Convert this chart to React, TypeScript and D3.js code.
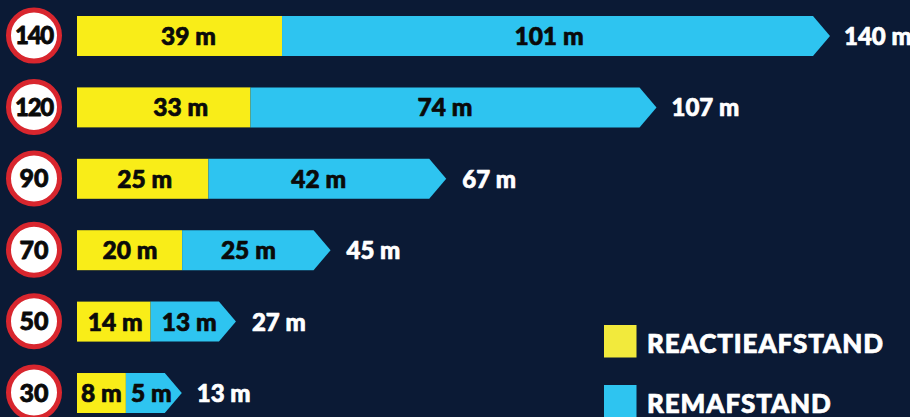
import React from "react";
import * as d3 from "d3";

const speeds = ["140", "120", "90", "70", "50", "30"];
const reaction = [39, 33, 25, 20, 14, 8];
const braking = [101, 74, 42, 25, 13, 5];
const totals = [140, 107, 67, 45, 27, 13];
// The bottom bar is drawn longer in the picture than its printed labels say.
const reactionDrawn = [39, 33, 25, 20, 14, 9.3];
const brakingDrawn = [101, 74, 42, 25, 13, 7.4];
const legendLabels = ["REACTIEAFSTAND", "REMAFSTAND"];

const W = 910, H = 417;
const font = "Lato, sans-serif";
const x = d3.scaleLinear().domain([0, 140]).range([77, 813]);
const y = d3.scaleBand<string>().domain(speeds).range([16, 413]).paddingInner(0.44).paddingOuter(0);
const TIP = 17;
const reactionNudge = [9, 17, 2, 0.5, 1.5, 0];
const brakingNudge = [1.5, 0, 0, 0.5, 4.5, 6];
const totalGap = [14, 15, 16, 16, 16, 15];

const heavy = (fill: string, w = 0.7) => ({
  fontFamily: font,
  fontWeight: 900,
  fill,
  stroke: fill,
  strokeWidth: w,
  strokeLinejoin: "round" as const,
});

export default function App() {
  const bh = y.bandwidth();
  return (
    <svg width={W} height={H} viewBox={`0 0 ${W} ${H}`} style={{ position: "absolute", left: 0, top: 0, background: "#0b1a35" }}>
      {speeds.map((s, i) => {
        const t = y(s)!;
        const cy = t + bh / 2;
        const xr = x(reactionDrawn[i]);
        const xe = x(reactionDrawn[i] + brakingDrawn[i]);
        const path = d3.path();
        path.moveTo(xr, t);
        path.lineTo(xe, t);
        path.lineTo(xe + TIP, cy);
        path.lineTo(xe, t + bh);
        path.lineTo(xr, t + bh);
        path.closePath();
        return (
          <g key={s}>
            <circle cx={34} cy={cy - 0.4} r={25.5} fill="#fff" stroke="#d8262e" strokeWidth={5} />
            <text x={34} y={cy + 8.5} textAnchor="middle" fontSize={s.length > 2 ? 24 : 25} letterSpacing={s.length > 2 ? -1.2 : 0} {...heavy("#0a0a0a", 0.8)}>{s}</text>
            <rect x={x(0)} y={t} width={xr - x(0)} height={bh} fill="#f9ed18" />
            <path d={path.toString()} fill="#2ec4f0" />
            <text x={(x(0) + xr) / 2 + reactionNudge[i]} y={cy + 9} textAnchor="middle" fontSize={24.5} {...heavy("#0a0a0a")}>{reaction[i]} m</text>
            <text x={(xr + xe) / 2 + brakingNudge[i]} y={cy + 9} textAnchor="middle" fontSize={24.5} {...heavy("#0a0a0a")}>{braking[i]} m</text>
            <text x={xe + TIP + totalGap[i]} y={cy + 9} fontSize={24} {...heavy("#fff")}>{totals[i]} m</text>
          </g>
        );
      })}
      {legendLabels.map((l, i) => (
        <g key={l}>
          <rect x={604} y={325 + i * 60} width={32.5} height={32.5} fill={i === 0 ? "#f2ea3c" : "#2ec4f0"} />
          <text x={647} y={352.7 + i * 60} fontSize={26} letterSpacing={0.9} {...heavy("#fff", 0.7)}>{l}</text>
        </g>
      ))}
    </svg>
  );
}
